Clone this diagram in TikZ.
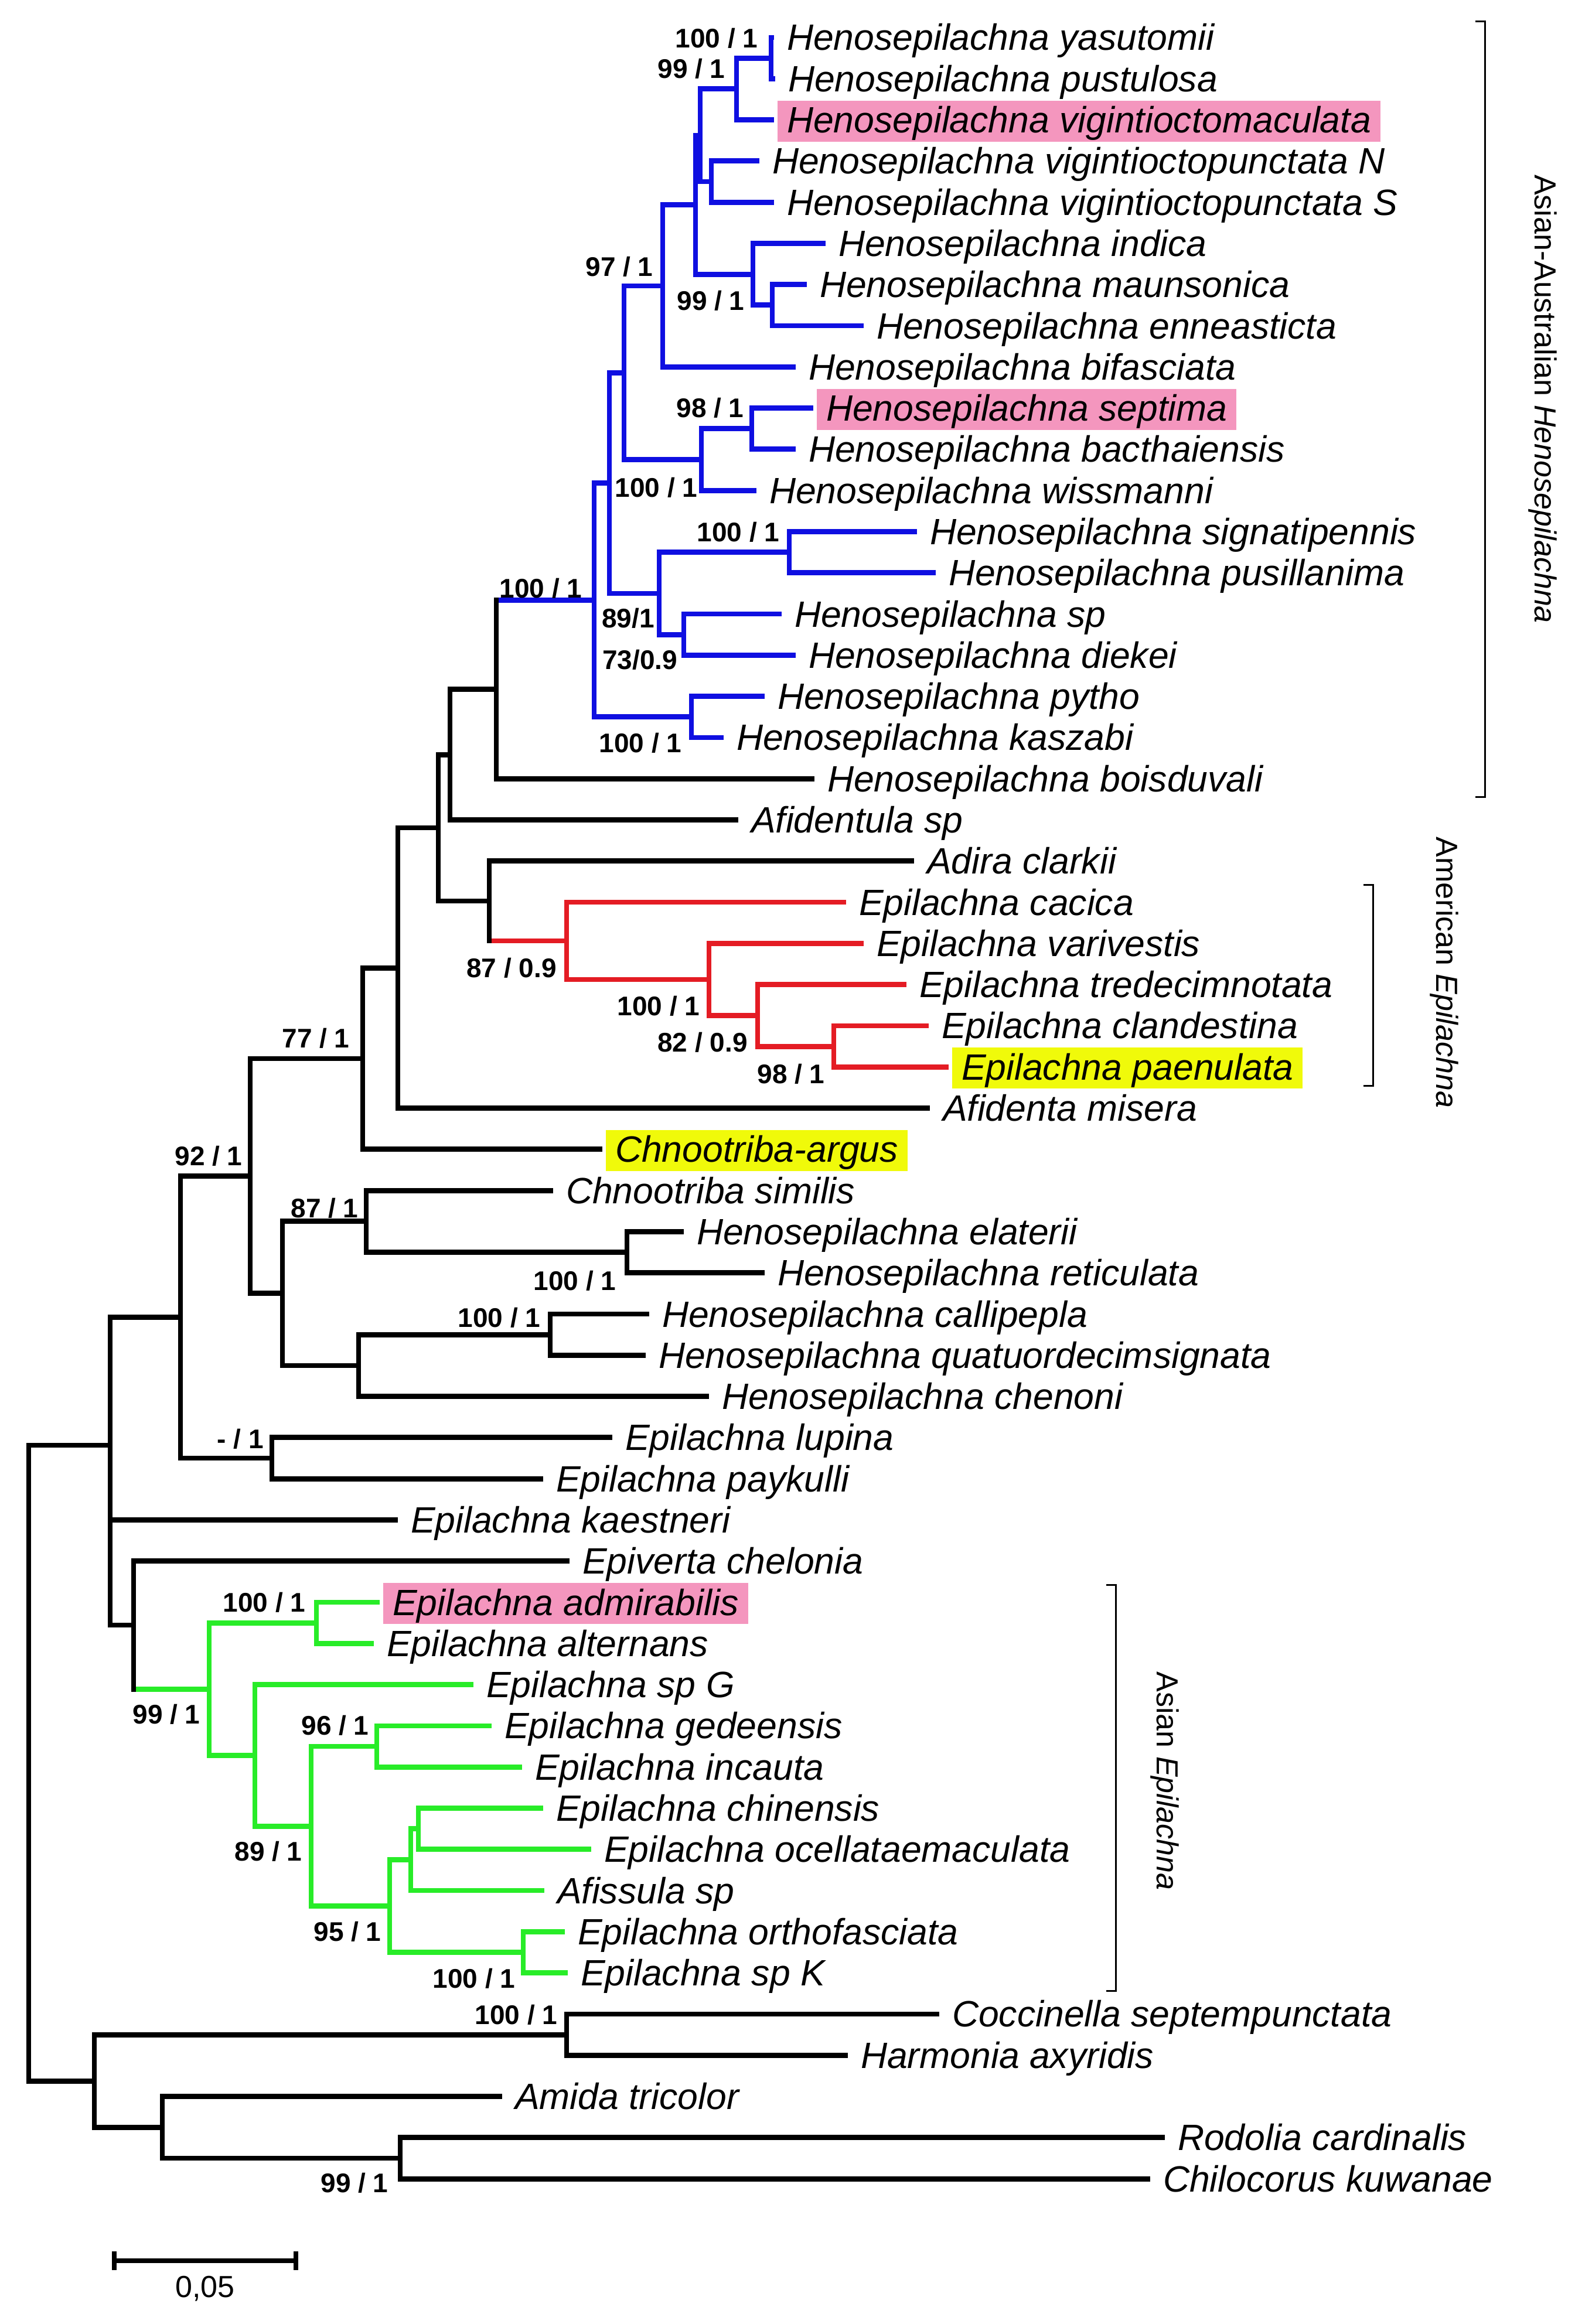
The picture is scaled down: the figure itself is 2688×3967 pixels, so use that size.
\documentclass[tikz,border=0pt]{standalone}
\usepackage{fontspec}
\setmainfont{Liberation Sans}
\definecolor{bblue}{RGB}{15,15,225}
\definecolor{rred}{RGB}{228,28,36}
\definecolor{ggreen}{RGB}{40,236,40}
\definecolor{pinkhl}{RGB}{244,150,190}
\definecolor{yellowhl}{RGB}{240,250,10}
\tikzset{
 vbr/.style={line width=0.88pt, line cap=rect},
 hbr/.style={line width=0.88pt},
 leaflab/.style={anchor=base west, inner xsep=1.6pt, inner ysep=0pt, text height=5.5pt, text depth=1.5pt, font=\fontsize{6.25pt}{7pt}\selectfont\itshape},
 pinkbox/.style={fill=pinkhl},
 yellowbox/.style={fill=yellowhl},
 bs/.style={inner sep=0pt, text height=3.2pt, text depth=0pt, anchor=center, font=\fontsize{4.6pt}{5pt}\selectfont\bfseries},
 cladelab/.style={inner sep=0pt, rotate=-90, anchor=center, font=\fontsize{5.2pt}{6pt}\selectfont},
 bracket/.style={line width=0.3pt},
}
\newcommand{\mkleaf}[4][]{%
  \coordinate (t#2) at (#3,{64+(#2-1)*70.29});
  \node[leaflab,#1] (l#2) at ([shift={(4,22)}]t#2) {#4};}
\newcommand{\mkclade}[4]{%
  \draw[hbr,#1] (#2 |- #3) -- (#3);
  \draw[hbr,#1] (#2 |- #4) -- (#4);
  \draw[vbr,#1] (#2 |- #3) -- (#2 |- #4);}
\begin{document}
\begin{tikzpicture}[x=0.1pt,y=-0.1pt]
\useasboundingbox[fill=white] (0,0) rectangle (2688,3967);
% ---------------- leaves ----------------
\mkleaf{1}{1321}{Henosepilachna yasutomii}
\mkleaf{2}{1323}{Henosepilachna pustulosa}
\mkleaf[pinkbox]{3}{1321}{Henosepilachna vigintioctomaculata}
\mkleaf{4}{1296}{Henosepilachna vigintioctopunctata N}
\mkleaf{5}{1321}{Henosepilachna vigintioctopunctata S}
\mkleaf{6}{1409}{Henosepilachna indica}
\mkleaf{7}{1377}{Henosepilachna maunsonica}
\mkleaf{8}{1474}{Henosepilachna enneasticta}
\mkleaf{9}{1358}{Henosepilachna bifasciata}
\mkleaf[pinkbox]{10}{1388}{Henosepilachna septima}
\mkleaf{11}{1358}{Henosepilachna bacthaiensis}
\mkleaf{12}{1291}{Henosepilachna wissmanni}
\mkleaf{13}{1565}{Henosepilachna signatipennis}
\mkleaf{14}{1597}{Henosepilachna pusillanima}
\mkleaf{15}{1334}{Henosepilachna sp}
\mkleaf{16}{1358}{Henosepilachna diekei}
\mkleaf{17}{1305}{Henosepilachna pytho}
\mkleaf{18}{1235}{Henosepilachna kaszabi}
\mkleaf{19}{1390}{Henosepilachna boisduvali}
\mkleaf{20}{1260}{Afidentula sp}
\mkleaf{21}{1560}{Adira clarkii}
\mkleaf{22}{1444}{Epilachna cacica}
\mkleaf{23}{1474}{Epilachna varivestis}
\mkleaf{24}{1547}{Epilachna tredecimnotata}
\mkleaf{25}{1585}{Epilachna clandestina}
\mkleaf[yellowbox]{26}{1619}{Epilachna paenulata}
\mkleaf{27}{1587}{Afidenta misera}
\mkleaf[yellowbox]{28}{1028}{Chnootriba-argus}
\mkleaf{29}{944}{Chnootriba similis}
\mkleaf{30}{1167}{Henosepilachna elaterii}
\mkleaf{31}{1305}{Henosepilachna reticulata}
\mkleaf{32}{1108}{Henosepilachna callipepla}
\mkleaf{33}{1102}{Henosepilachna quatuordecimsignata}
\mkleaf{34}{1210}{Henosepilachna chenoni}
\mkleaf{35}{1045}{Epilachna lupina}
\mkleaf{36}{927}{Epilachna paykulli}
\mkleaf{37}{679}{Epilachna kaestneri}
\mkleaf{38}{972}{Epiverta chelonia}
\mkleaf[pinkbox]{39}{648}{Epilachna admirabilis}
\mkleaf{40}{638}{Epilachna alternans}
\mkleaf{41}{808}{Epilachna sp G}
\mkleaf{42}{839}{Epilachna gedeensis}
\mkleaf{43}{891}{Epilachna incauta}
\mkleaf{44}{927}{Epilachna chinensis}
\mkleaf{45}{1009}{Epilachna ocellataemaculata}
\mkleaf{46}{929}{Afissula sp}
\mkleaf{47}{964}{Epilachna orthofasciata}
\mkleaf{48}{969}{Epilachna sp K}
\mkleaf{49}{1603}{Coccinella septempunctata}
\mkleaf{50}{1447}{Harmonia axyridis}
\mkleaf{51}{857}{Amida tricolor}
\mkleaf{52}{1988}{Rodolia cardinalis}
\mkleaf{53}{1963}{Chilocorus kuwanae}
% ---------------- internal nodes ----------------
\coordinate (Nyp) at (1316,99.2);
\coordinate (N99) at (1257,151.9);
\coordinate (Nvig) at (1214,310.1);
\coordinate (NA) at (1195,231.0);
\coordinate (Nme) at (1318,520.9);
\coordinate (Nind) at (1285,468.2);
\coordinate (NB) at (1187,349.6);
\coordinate (NC) at (1131,488.0);
\coordinate (Nsb) at (1283,731.8);
\coordinate (Nw) at (1197,784.5);
\coordinate (ND) at (1065,636.2);
\coordinate (Nsp) at (1347,942.7);
\coordinate (Nsd) at (1167,1083.3);
\coordinate (NF) at (1125,1013.0);
\coordinate (NE) at (1040,824.6);
\coordinate (Npk) at (1180,1223.8);
\coordinate (NR) at (1014,1024.2);
\coordinate (Nhb) at (847,1176.7);
\coordinate (Naf) at (768,1288.1);
\coordinate (Nr4) at (1423,1786.2);
\coordinate (Nr3) at (1293,1733.5);
\coordinate (Nr2) at (1210,1672.0);
\coordinate (Nr1) at (967,1606.0);
\coordinate (Nad) at (835,1537.9);
\coordinate (Nx) at (748,1413.0);
\coordinate (Ny) at (679,1652.3);
\coordinate (N77) at (619,1807.0);
\coordinate (Ner) at (1070,2137.6);
\coordinate (N87) at (625,2084.8);
\coordinate (Ncq) at (939,2278.1);
\coordinate (Ncc) at (612,2330.9);
\coordinate (Ng1) at (482,2207.8);
\coordinate (N92) at (427,2007.4);
\coordinate (Nlp) at (464,2489.0);
\coordinate (Nh) at (308,2248.2);
\coordinate (Naa) at (540,2770.2);
\coordinate (Ngi) at (643,2981.0);
\coordinate (Ng6) at (714,3121.7);
\coordinate (Ng5) at (701,3174.4);
\coordinate (Nok) at (893,3332.5);
\coordinate (Ng4) at (665,3253.5);
\coordinate (Ng3) at (531,3117.3);
\coordinate (Ng2) at (435,2996.4);
\coordinate (Ng0) at (357,2883.3);
\coordinate (Nev) at (228,2774.0);
\coordinate (Nmain) at (188,2467);
\coordinate (Ncs) at (967,3473.1);
\coordinate (Nrc) at (683,3684.0);
\coordinate (Nam) at (277,3631.2);
\coordinate (Nog) at (161,3552.2);
\coordinate (Root) at (49,3009.6);
% ---------------- blue clade ----------------
\mkclade{bblue}{Nyp}{t1}{t2}
\mkclade{bblue}{N99}{Nyp}{t3}
\mkclade{bblue}{Nvig}{t4}{t5}
\mkclade{bblue}{NA}{N99}{Nvig}
\mkclade{bblue}{Nme}{t7}{t8}
\mkclade{bblue}{Nind}{t6}{Nme}
\mkclade{bblue}{NB}{NA}{Nind}
\mkclade{bblue}{NC}{NB}{t9}
\mkclade{bblue}{Nsb}{t10}{t11}
\mkclade{bblue}{Nw}{Nsb}{t12}
\mkclade{bblue}{ND}{NC}{Nw}
\mkclade{bblue}{Nsp}{t13}{t14}
\mkclade{bblue}{Nsd}{t15}{t16}
\mkclade{bblue}{NF}{Nsp}{Nsd}
\mkclade{bblue}{NE}{ND}{NF}
\mkclade{bblue}{Npk}{t17}{t18}
\mkclade{bblue}{NR}{NE}{Npk}
\draw[hbr,bblue] (Nhb |- NR) -- (NR);
% ---------------- red clade ----------------
\mkclade{rred}{Nr4}{t25}{t26}
\mkclade{rred}{Nr3}{t24}{Nr4}
\mkclade{rred}{Nr2}{t23}{Nr3}
\mkclade{rred}{Nr1}{t22}{Nr2}
\draw[hbr,rred] (Nad |- Nr1) -- (Nr1);
% ---------------- green clade ----------------
\mkclade{ggreen}{Naa}{t39}{t40}
\mkclade{ggreen}{Ngi}{t42}{t43}
\mkclade{ggreen}{Ng6}{t44}{t45}
\mkclade{ggreen}{Ng5}{Ng6}{t46}
\mkclade{ggreen}{Nok}{t47}{t48}
\mkclade{ggreen}{Ng4}{Ng5}{Nok}
\mkclade{ggreen}{Ng3}{Ngi}{Ng4}
\mkclade{ggreen}{Ng2}{t41}{Ng3}
\mkclade{ggreen}{Ng0}{Naa}{Ng2}
\draw[hbr,ggreen] (Nev |- Ng0) -- (Ng0);
% ---------------- black branches ----------------
\draw[hbr] (Nhb |- t19) -- (t19);
\draw[vbr] (Nhb |- NR) -- (Nhb |- t19);
\mkclade{black}{Naf}{Nhb}{t20}
\draw[hbr] (Nad |- t21) -- (t21);
\draw[vbr] (Nad |- t21) -- (Nad |- Nr1);
\mkclade{black}{Nx}{Naf}{Nad}
\mkclade{black}{Ny}{Nx}{t27}
\mkclade{black}{N77}{Ny}{t28}
\mkclade{black}{Ner}{t30}{t31}
\mkclade{black}{N87}{t29}{Ner}
\mkclade{black}{Ncq}{t32}{t33}
\mkclade{black}{Ncc}{Ncq}{t34}
\mkclade{black}{Ng1}{N87}{Ncc}
\mkclade{black}{N92}{N77}{Ng1}
\mkclade{black}{Nlp}{t35}{t36}
\mkclade{black}{Nh}{N92}{Nlp}
\draw[hbr] (Nev |- t38) -- (t38);
\draw[vbr] (Nev |- t38) -- (Nev |- Ng0);
\mkclade{black}{Nmain}{Nh}{Nev}
\draw[hbr] (Nmain |- t37) -- (t37);
\mkclade{black}{Ncs}{t49}{t50}
\mkclade{black}{Nrc}{t52}{t53}
\mkclade{black}{Nam}{t51}{Nrc}
\mkclade{black}{Nog}{Ncs}{Nam}
\mkclade{black}{Root}{Nmain}{Nog}
% ---------------- support values ----------------
\node[bs] (b1) at (1223,66) {100 / 1};
\node[bs] (b2) at (1180,118) {99 / 1};
\node[bs] (b3) at (1057,456) {97 / 1};
\node[bs] (b4) at (1213,514) {99 / 1};
\node[bs] (b5) at (1212,697) {98 / 1};
\node[bs] (b6) at (1120,833) {100 / 1};
\node[bs] (b7) at (1260,909) {100 / 1};
\node[bs] (b8) at (923,1005) {100 / 1};
\node[bs] (b9) at (1072,1055) {89/1};
\node[bs] (b10) at (1092,1126) {73/0.9};
\node[bs] (b11) at (1093,1269) {100 / 1};
\node[bs] (b12) at (873,1652) {87 / 0.9};
\node[bs] (b13) at (1124,1717) {100 / 1};
\node[bs] (b14) at (1199,1779) {82 / 0.9};
\node[bs] (b15) at (1350,1833) {98 / 1};
\node[bs] (b16) at (539,1772) {77 / 1};
\node[bs] (b17) at (356,1973) {92 / 1};
\node[bs] (b18) at (554,2062) {87 / 1};
\node[bs] (b19) at (981,2186) {100 / 1};
\node[bs] (b20) at (852,2249) {100 / 1};
\node[bs] (b21) at (410,2456) {- / 1};
\node[bs] (b22) at (451,2735) {100 / 1};
\node[bs] (b23) at (284,2926) {99 / 1};
\node[bs] (b24) at (572,2945) {96 / 1};
\node[bs] (b25) at (458,3160) {89 / 1};
\node[bs] (b26) at (593,3297) {95 / 1};
\node[bs] (b27) at (809,3377) {100 / 1};
\node[bs] (b28) at (881,3439) {100 / 1};
\node[bs] (b29) at (605,3726) {99 / 1};
% ---------------- clade brackets ----------------
\coordinate (brA1) at (2534,37);
\coordinate (brA2) at (2534,1360);
\draw[bracket] ([shift={(-16,0)}]brA1) -- (brA1) -- (brA2) -- ([shift={(-16,0)}]brA2);
\node[cladelab] (cA) at (2633,681) {Asian-Australian \textit{Henosepilachna}};
\coordinate (brB1) at (2343,1510);
\coordinate (brB2) at (2343,1853);
\draw[bracket] ([shift={(-16,0)}]brB1) -- (brB1) -- (brB2) -- ([shift={(-16,0)}]brB2);
\node[cladelab] (cB) at (2465,1660) {American \textit{Epilachna}};
\coordinate (brC1) at (1904,2705);
\coordinate (brC2) at (1904,3398);
\draw[bracket] ([shift={(-16,0)}]brC1) -- (brC1) -- (brC2) -- ([shift={(-16,0)}]brC2);
\node[cladelab] (cC) at (1988,3040) {Asian \textit{Epilachna}};
% ---------------- scale bar ----------------
\coordinate (sb1) at (195,3859);
\coordinate (sb2) at (505,3859);
\draw[hbr] (sb1) -- (sb2);
\draw[hbr] ([shift={(0,-16)}]sb1) -- ([shift={(0,16)}]sb1);
\draw[hbr] ([shift={(0,-16)}]sb2) -- ([shift={(0,16)}]sb2);
\node[inner sep=0pt, text height=3.7pt, text depth=0pt, font=\fontsize{5.2pt}{6pt}\selectfont] (sblab) at (350,3903) {0,05};
\end{tikzpicture}
\end{document}
